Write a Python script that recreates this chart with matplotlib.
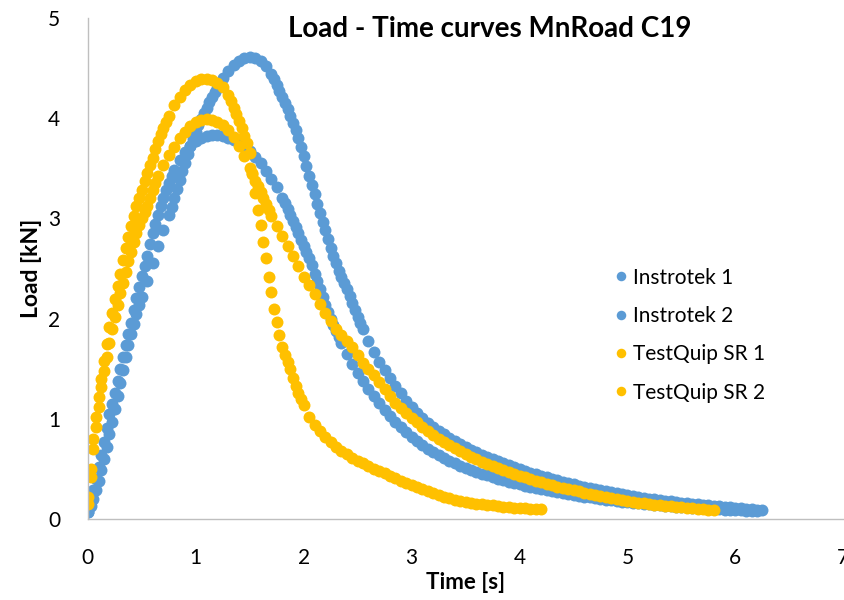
import matplotlib.pyplot as plt

# Instrotek 1
inst1_t = [0, 0.025, 0.05, 0.075, 0.1, 0.125, 0.15, 0.175, 0.2, 0.225, 0.25, 0.275, 0.3, 0.325, 0.35, 0.375,
           0.4, 0.425, 0.45, 0.475, 0.5, 0.55, 0.6, 0.65, 0.7, 0.75, 0.8, 0.85, 0.9, 0.95, 1.0, 1.05, 1.1,
           1.15, 1.2, 1.25, 1.3, 1.35, 1.4, 1.45, 1.5, 1.55, 1.6, 1.65, 1.7, 1.75, 1.8, 1.85, 1.9, 1.95, 2.0,
           2.05, 2.1, 2.15, 2.2, 2.25, 2.3, 2.35, 2.4, 2.45, 2.5, 2.55, 2.6, 2.65, 2.7, 2.75, 2.8, 2.85, 2.9,
           2.95, 3.0, 3.05, 3.1, 3.15, 3.2, 3.25, 3.3, 3.35, 3.4, 3.45, 3.5, 3.55, 3.6, 3.65, 3.7, 3.75, 3.8,
           3.85, 3.9, 3.95, 4.0, 4.05, 4.1, 4.15, 4.2, 4.25, 4.3, 4.35, 4.4, 4.45, 4.5, 4.55, 4.6, 4.65, 4.7,
           4.75, 4.8, 4.85, 4.9, 4.95, 5.0, 5.05, 5.1, 5.15, 5.2, 5.25, 5.3, 5.35, 5.4, 5.45, 5.5, 5.55, 5.6,
           5.65, 5.7, 5.75, 5.8, 5.85, 5.9, 5.95, 6.0, 6.05, 6.1, 6.15, 6.2, 6.25,
           0.775, 0.825, 0.875, 0.925, 0.975, 1.025, 1.075, 1.125, 1.175, 1.225,
           1.725, 1.775, 1.825, 1.875, 1.925, 1.975, 2.025, 2.075, 2.125, 2.175, 2.225, 2.275, 2.325,
           2.375, 2.425, 2.475, 2.525]
inst1_load = [0.07, 0.13, 0.20, 0.29, 0.38, 0.49, 0.60, 0.72, 0.85, 0.97, 1.10, 1.23, 1.36, 1.49, 1.62, 1.74,
              1.85, 1.95, 2.05, 2.14, 2.22, 2.38, 2.55, 2.72, 2.88, 3.03, 3.20, 3.38, 3.55, 3.72, 3.86, 3.99, 4.10,
              4.21, 4.30, 4.40, 4.47, 4.53, 4.57, 4.60, 4.61, 4.60, 4.57, 4.52, 4.44, 4.33, 4.21, 4.09, 3.95, 3.80, 3.62,
              3.42, 3.24, 3.05, 2.88, 2.70, 2.55, 2.42, 2.30, 2.16, 2.02, 1.90, 1.78, 1.67, 1.57, 1.49, 1.41, 1.33, 1.26,
              1.18, 1.12, 1.06, 1.01, 0.96, 0.92, 0.88, 0.85, 0.81, 0.78, 0.75, 0.72, 0.69, 0.67, 0.64, 0.62, 0.60, 0.58,
              0.56, 0.54, 0.52, 0.50, 0.48, 0.46, 0.45, 0.43, 0.42, 0.40, 0.39, 0.37, 0.36, 0.35, 0.33, 0.32, 0.31, 0.30,
              0.29, 0.28, 0.27, 0.26, 0.25, 0.24, 0.23, 0.22, 0.21, 0.20, 0.20, 0.19, 0.18, 0.18, 0.17, 0.16, 0.16, 0.15,
              0.15, 0.14, 0.14, 0.13, 0.13, 0.12, 0.12, 0.11, 0.11, 0.10, 0.10, 0.09, 0.09,
              3.11, 3.29, 3.47, 3.64, 3.79, 3.93, 4.05, 4.16, 4.26, 4.35,
              4.39, 4.27, 4.15, 4.02, 3.88, 3.71, 3.52, 3.33, 3.14, 2.96, 2.79, 2.62, 2.48,
              2.36, 2.23, 2.09, 1.96]

# Instrotek 2
inst2_t = [0, 0.025, 0.05, 0.075, 0.1, 0.125, 0.15, 0.175, 0.2, 0.225, 0.25, 0.275, 0.3, 0.325, 0.35, 0.375,
           0.4, 0.425, 0.45, 0.475, 0.5, 0.55, 0.6, 0.65, 0.7, 0.75, 0.8, 0.85, 0.9, 0.95, 1.0, 1.05, 1.1,
           1.15, 1.2, 1.25, 1.3, 1.35, 1.4, 1.45, 1.5, 1.55, 1.6, 1.65, 1.7, 1.75, 1.8, 1.85, 1.9, 1.95, 2.0,
           2.05, 2.1, 2.15, 2.2, 2.25, 2.3, 2.35, 2.4, 2.45, 2.5, 2.55, 2.6, 2.65, 2.7, 2.75, 2.8, 2.85, 2.9,
           2.95, 3.0, 3.05, 3.1, 3.15, 3.2, 3.25, 3.3, 3.35, 3.4, 3.45, 3.5, 3.55, 3.6, 3.65, 3.7, 3.75, 3.8,
           3.85, 3.9, 3.95, 4.0, 4.05, 4.1, 4.15, 4.2, 4.25, 4.3, 4.35, 4.4, 4.45, 4.5, 4.55, 4.6, 4.65, 4.7,
           4.75, 4.8, 4.85, 4.9, 4.95, 5.0, 5.05, 5.1, 5.15, 5.2, 5.25, 5.3, 5.35, 5.4, 5.45, 5.5, 5.55, 5.6,
           5.65, 5.7, 5.75, 5.8, 5.85, 5.9, 5.95, 6.0, 6.05, 6.1, 6.15, 6.2,
           0.525, 0.575, 0.625, 0.675, 0.725, 0.775,
           1.825, 1.875, 1.925, 1.975, 2.025, 2.075, 2.125, 2.175, 2.225, 2.275, 2.325]
inst2_load = [0.07, 0.18, 0.29, 0.40, 0.52, 0.64, 0.77, 0.91, 1.05, 1.15, 1.26, 1.38, 1.50, 1.62, 1.74, 1.85,
              1.96, 2.09, 2.21, 2.32, 2.43, 2.62, 2.85, 3.03, 3.20, 3.35, 3.48, 3.58, 3.66, 3.72, 3.77, 3.80, 3.82,
              3.83, 3.83, 3.82, 3.80, 3.78, 3.76, 3.72, 3.67, 3.61, 3.55, 3.47, 3.39, 3.31, 3.20, 3.09, 2.97, 2.85, 2.72,
              2.60, 2.45, 2.30, 2.14, 2.00, 1.88, 1.76, 1.65, 1.55, 1.46, 1.38, 1.30, 1.23, 1.16, 1.09, 1.03, 0.97, 0.92,
              0.87, 0.82, 0.78, 0.74, 0.70, 0.67, 0.64, 0.61, 0.58, 0.56, 0.53, 0.51, 0.49, 0.47, 0.45, 0.44, 0.42, 0.40,
              0.39, 0.37, 0.36, 0.35, 0.33, 0.32, 0.31, 0.30, 0.29, 0.28, 0.27, 0.26, 0.25, 0.24, 0.23, 0.22, 0.22, 0.21,
              0.20, 0.19, 0.19, 0.18, 0.17, 0.17, 0.16, 0.16, 0.15, 0.15, 0.14, 0.14, 0.13, 0.13, 0.12, 0.12, 0.12, 0.11,
              0.11, 0.11, 0.10, 0.10, 0.10, 0.09, 0.09, 0.09, 0.09, 0.08, 0.08, 0.08,
              2.52, 2.74, 2.94, 3.12, 3.28, 3.42,
              3.15, 3.03, 2.91, 2.78, 2.66, 2.53, 2.38, 2.22, 2.07, 1.94, 1.82]

# TestQuip SR 1
sr1_t = [0, 0.025, 0.05, 0.075, 0.1, 0.125, 0.15, 0.175, 0.2, 0.225, 0.25, 0.275, 0.3, 0.325, 0.35, 0.375,
         0.4, 0.425, 0.45, 0.475, 0.5, 0.55, 0.6, 0.65, 0.7, 0.75, 0.8, 0.85, 0.9, 0.95, 1.0, 1.05, 1.1,
         1.15, 1.2, 1.25, 1.3, 1.35, 1.4, 1.45, 1.5, 1.55, 1.6, 1.65, 1.7, 1.75, 1.8, 1.85, 1.9, 1.95, 2.0,
         2.05, 2.1, 2.15, 2.2, 2.25, 2.3, 2.35, 2.4, 2.45, 2.5, 2.55, 2.6, 2.65, 2.7, 2.75, 2.8, 2.85, 2.9,
         2.95, 3.0, 3.05, 3.1, 3.15, 3.2, 3.25, 3.3, 3.35, 3.4, 3.45, 3.5, 3.55, 3.6, 3.65, 3.7, 3.75, 3.8,
         3.85, 3.9, 3.95, 4.0, 4.05, 4.1, 4.15, 4.2, 4.25, 4.3, 4.35, 4.4, 4.45, 4.5, 4.55, 4.6, 4.65, 4.7,
         4.75, 4.8, 4.85, 4.9, 4.95, 5.0, 5.05, 5.1, 5.15, 5.2, 5.25, 5.3, 5.35, 5.4, 5.45, 5.5, 5.55, 5.6,
         5.65, 5.7, 5.75, 5.8,
         0.525, 0.575, 0.625, 1.525, 1.575, 1.625, 1.675]
sr1_load = [0.15, 0.42, 0.70, 0.92, 1.12, 1.32, 1.48, 1.62, 1.76, 1.90, 2.02, 2.14, 2.26, 2.36, 2.47, 2.57,
            2.66, 2.76, 2.85, 2.93, 3.00, 3.12, 3.28, 3.42, 3.53, 3.63, 3.71, 3.80, 3.86, 3.92, 3.96, 3.98, 3.99,
            3.98, 3.96, 3.93, 3.88, 3.81, 3.72, 3.62, 3.50, 3.37, 3.26, 3.14, 3.02, 2.92, 2.82, 2.72, 2.62, 2.52, 2.42,
            2.34, 2.25, 2.15, 2.06, 1.98, 1.90, 1.84, 1.78, 1.72, 1.64, 1.56, 1.50, 1.44, 1.37, 1.30, 1.23, 1.16, 1.11,
            1.06, 1.01, 0.97, 0.92, 0.88, 0.84, 0.80, 0.77, 0.74, 0.71, 0.68, 0.65, 0.62, 0.60, 0.57, 0.55, 0.53, 0.51,
            0.49, 0.47, 0.45, 0.43, 0.42, 0.40, 0.38, 0.37, 0.35, 0.34, 0.32, 0.31, 0.30, 0.29, 0.28, 0.26, 0.25, 0.24,
            0.23, 0.22, 0.21, 0.20, 0.19, 0.18, 0.17, 0.16, 0.16, 0.15, 0.14, 0.14, 0.13, 0.13, 0.12, 0.12, 0.11, 0.11,
            0.10, 0.10, 0.09, 0.09,
            3.06, 3.20, 3.35, 3.44, 3.32, 3.20, 3.08]

# TestQuip SR 2
sr2_t = [0, 0.025, 0.05, 0.075, 0.1, 0.125, 0.15, 0.175, 0.2, 0.225, 0.25, 0.275, 0.3, 0.325, 0.35, 0.375,
         0.4, 0.425, 0.45, 0.475, 0.5, 0.55, 0.6, 0.65, 0.7, 0.75, 0.8, 0.85, 0.9, 0.95, 1.0, 1.05, 1.1,
         1.15, 1.2, 1.25, 1.3, 1.35, 1.4, 1.45, 1.475, 1.5, 1.525, 1.55, 1.575, 1.6, 1.625, 1.65, 1.675, 1.7,
         1.725, 1.75, 1.775, 1.8, 1.825, 1.85, 1.875, 1.9, 1.925, 1.95, 1.975, 2.0, 2.05, 2.1, 2.15, 2.2,
         2.25, 2.3, 2.35, 2.4, 2.45, 2.5, 2.55, 2.6, 2.65, 2.7, 2.75, 2.8, 2.85, 2.9, 2.95, 3.0, 3.05, 3.1,
         3.15, 3.2, 3.25, 3.3, 3.35, 3.4, 3.45, 3.5, 3.55, 3.6, 3.65, 3.7, 3.75, 3.8, 3.85, 3.9, 3.95, 4.0,
         4.05, 4.1, 4.15, 4.2,
         0.525, 0.575, 0.625, 0.675, 0.725, 1.325, 1.375, 1.425]
sr2_load = [0.22, 0.50, 0.80, 1.02, 1.22, 1.40, 1.58, 1.75, 1.92, 2.06, 2.20, 2.33, 2.45, 2.58, 2.70, 2.81,
            2.92, 3.02, 3.12, 3.20, 3.28, 3.45, 3.60, 3.77, 3.90, 4.02, 4.13, 4.21, 4.28, 4.33, 4.37, 4.39, 4.39,
            4.38, 4.35, 4.31, 4.23, 4.10, 3.97, 3.82, 3.75, 3.65, 3.45, 3.25, 3.08, 2.93, 2.76, 2.60, 2.42, 2.27,
            2.10, 1.97, 1.84, 1.72, 1.64, 1.57, 1.50, 1.41, 1.33, 1.26, 1.20, 1.14, 1.02, 0.94, 0.88, 0.82,
            0.77, 0.72, 0.68, 0.65, 0.61, 0.58, 0.56, 0.53, 0.50, 0.48, 0.46, 0.43, 0.41, 0.38, 0.36, 0.34, 0.32, 0.30,
            0.28, 0.26, 0.24, 0.22, 0.21, 0.19, 0.18, 0.17, 0.16, 0.15, 0.15, 0.14, 0.14, 0.13, 0.12, 0.12, 0.11, 0.11,
            0.11, 0.10, 0.10, 0.10,
            3.37, 3.53, 3.69, 3.84, 3.96, 4.17, 4.04, 3.90]

blue = '#5B9BD5'
orange = '#FFC000'

plt.rcParams['font.family'] = ['Lato', 'DejaVu Sans']

fig = plt.figure(figsize=(8.45, 6), dpi=100)
ax = fig.add_axes([0.104, 0.135, 0.894, 0.835])

ax.plot(inst1_t, inst1_load, 'o', color=blue, ms=8.6, mew=0, label='Instrotek 1')
ax.plot(inst2_t, inst2_load, 'o', color=blue, ms=8.6, mew=0, label='Instrotek 2')
ax.plot(sr1_t, sr1_load, 'o', color=orange, ms=8.6, mew=0, label='TestQuip SR 1')
ax.plot(sr2_t, sr2_load, 'o', color=orange, ms=8.6, mew=0, label='TestQuip SR 2')

ax.set_xlim(0, 7)
ax.set_ylim(0, 5)
ax.set_xticks(range(0, 8))
ax.set_yticks(range(0, 6))
ax.tick_params(length=0, labelsize=15, pad=21)
ax.tick_params(axis='y', pad=20)
for s in ['top', 'right']:
    ax.spines[s].set_visible(False)
for s in ['left', 'bottom']:
    ax.spines[s].set_color('#BFBFBF')
    ax.spines[s].set_linewidth(1)

ax.set_xlabel('Time [s]', fontsize=16, fontweight='bold', labelpad=3)
ax.set_ylabel('Load [kN]', fontsize=16.5, fontweight='bold', labelpad=4)

fig.text(0.58, 0.952, 'Load - Time curves MnRoad C19', ha='center', va='center',
         fontsize=20, fontweight='bold')

ax.legend(loc='upper left', bbox_to_anchor=(0.70, 0.585), bbox_transform=fig.transFigure,
          frameon=False, fontsize=15, handletextpad=0.1, labelspacing=0.88, markerscale=0.8,
          handlelength=1.0)

plt.savefig('out.png')
